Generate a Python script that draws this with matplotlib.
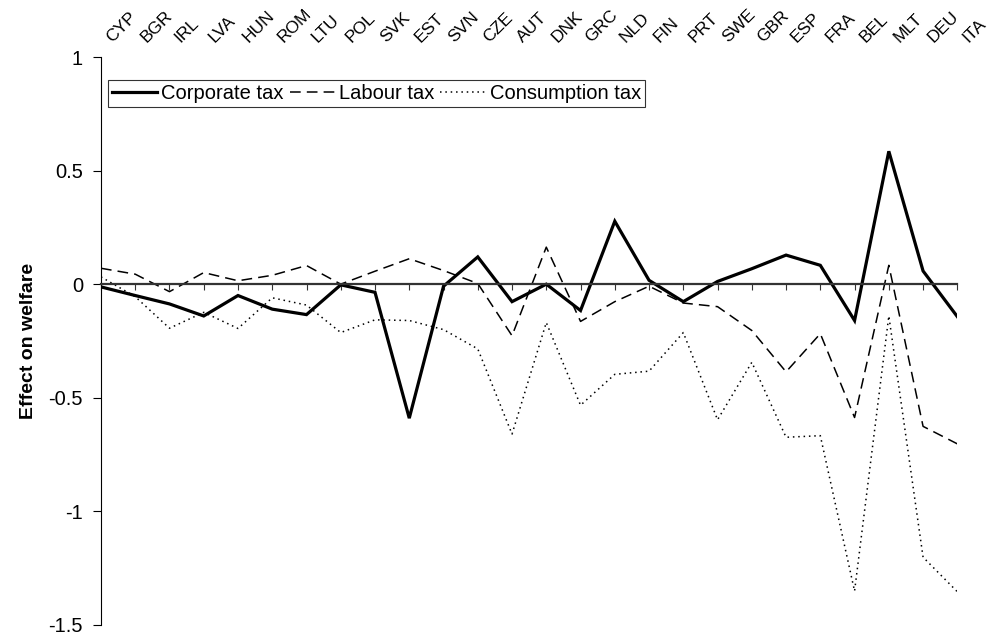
import numpy as np
import matplotlib.pyplot as plt
from matplotlib.transforms import ScaledTranslation

plt.rcParams['font.family'] = ['Liberation Sans', 'DejaVu Sans']

countries = ['CYP', 'BGR', 'IRL', 'LVA', 'HUN', 'ROM', 'LTU', 'POL', 'SVK', 'EST',
             'SVN', 'CZE', 'AUT', 'DNK', 'GRC', 'NLD', 'FIN', 'PRT', 'SWE', 'GBR',
             'ESP', 'FRA', 'BEL', 'MLT', 'DEU', 'ITA']

corporate = [-0.012, -0.05, -0.087, -0.14, -0.05, -0.11, -0.134, -0.003, -0.036, -0.59,
             -0.009, 0.12, -0.077, 0.0, -0.116, 0.277, 0.017, -0.077, 0.012, 0.068,
             0.128, 0.083, -0.16, 0.585, 0.058, -0.143]
labour = [0.07, 0.044, -0.033, 0.051, 0.015, 0.039, 0.082, 0.0, 0.057, 0.112,
          0.06, 0.003, -0.227, 0.163, -0.164, -0.077, -0.009, -0.083, -0.099, -0.204,
          -0.386, -0.218, -0.587, 0.083, -0.626, -0.703]
consumption = [0.032, -0.055, -0.194, -0.124, -0.195, -0.06, -0.092, -0.213, -0.157, -0.16,
               -0.2, -0.285, -0.66, -0.169, -0.533, -0.397, -0.383, -0.213, -0.597, -0.344,
               -0.674, -0.667, -1.351, -0.14, -1.202, -1.354]

x = np.arange(len(countries))

fig = plt.figure(figsize=(9.9, 6.37), dpi=100)
ax = fig.add_axes([0.102, 0.019, 0.865, 0.8915])

ax.plot(x, corporate, color='black', lw=2.3, label='Corporate tax', solid_joinstyle='miter')
ax.plot(x, labour, color='black', lw=1.1, linestyle=(0, (7, 4)), label='Labour tax')
ax.plot(x, consumption, color='black', lw=1.1, linestyle=(0, (1, 2.5)), label='Consumption tax')

ax.set_xlim(0, len(countries) - 1)
ax.set_ylim(-1.5, 1)
ax.set_yticks([-1.5, -1, -0.5, 0, 0.5, 1])
ax.set_yticklabels(['-1.5', '-1', '-0.5', '0', '0.5', '1'])
ax.tick_params(axis='y', direction='out', length=6, labelsize=14.5, pad=7)

# x axis sits at zero, labels go on top
ax.spines['bottom'].set_position(('data', 0))
ax.spines['bottom'].set_color('#333333')
ax.spines['bottom'].set_linewidth(1.6)
ax.spines['top'].set_visible(False)
ax.spines['right'].set_visible(False)
ax.set_xticks(x)
ax.set_xticklabels([])
ax.tick_params(axis='x', direction='out', length=4, color='#333333')

top = ax.secondary_xaxis('top')
top.set_xticks(x)
top.set_xticklabels(countries, rotation=45, ha='left', va='baseline',
                    rotation_mode='anchor', fontsize=12.5)
top.tick_params(length=0, pad=10)
top.spines['top'].set_visible(False)
for lab in top.get_xticklabels():
    lab.set_transform(lab.get_transform() + ScaledTranslation(0.11, 0, fig.dpi_scale_trans))

ax.set_ylabel('Effect on welfare', fontsize=14, fontweight='bold', labelpad=8)

leg = ax.legend(loc='upper left', ncol=3, fontsize=14.5, frameon=True, fancybox=False,
                edgecolor='black', handlelength=2.25, handletextpad=0.2,
                columnspacing=0.3, borderpad=0.2, borderaxespad=0.0)
leg.get_frame().set_linewidth(0.8)
leg.set_bbox_to_anchor((0.008, 0.96), transform=ax.transAxes)

fig.savefig('out.png', dpi=100)
